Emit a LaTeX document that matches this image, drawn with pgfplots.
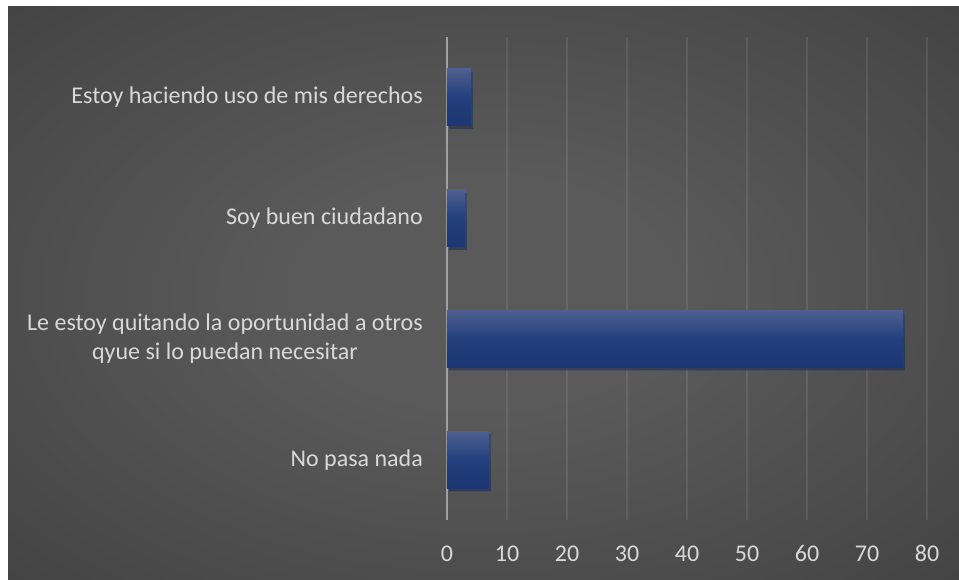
\documentclass[border=0pt]{standalone}
\usepackage{pgfplots}
\pgfplotsset{compat=1.18}
\usepackage{fontspec}
\setmainfont{Carlito}

\definecolor{bgin}{HTML}{5A5A5A}
\definecolor{bgout}{HTML}{252525}
\definecolor{txt}{HTML}{D9D9D9}
\definecolor{axisgray}{HTML}{A0A0A0}
\definecolor{bartop}{HTML}{4E5F91}
\definecolor{barmid}{HTML}{22407D}
\definecolor{barbot}{HTML}{1C3670}
\pgfdeclareradialshading{chartbg}{\pgfpoint{0bp}{0bp}}{%
  color(0bp)=(bgin); color(10bp)=(bgin); color(71bp)=(bgout)}

\begin{document}
\begin{tikzpicture}[x=1pt,y=1pt]
\fill[white] (0,0) rectangle (959,579);
\shade[shading=chartbg] (8,0) rectangle (959,572);
\begin{axis}[
    at={(447pt,59pt)}, anchor=south west,
    width=480pt, height=483pt, scale only axis,
    xbar, bar width=57pt, bar shift=0pt,
    xmin=0, xmax=80, ymin=-0.5, ymax=3.5,
    xtick={0,10,...,80},
    ytick={0,1,2,3},
    yticklabels={No pasa nada,
      {Le estoy quitando la oportunidad a otros\\qyue si lo puedan necesitar},
      Soy buen ciudadano,
      Estoy haciendo uso de mis derechos},
    major tick length=0pt,
    axis line style={draw=none},
    xmajorgrids,
    major grid style={white, opacity=0.09, line width=1.3pt},
    extra x ticks={0}, extra x tick labels={},
    extra x tick style={major grid style={axisgray, opacity=1, line width=2pt}},
    ticklabel style={font=\fontsize{24}{29}\selectfont, text=txt},
    /pgf/number format/assume math mode=true,
    xticklabel style={anchor=base, yshift=-41pt},
    yticklabel style={anchor=east, align=center, inner sep=0pt, xshift=-24pt},
    every axis plot/.append style={draw=none,
      preaction={fill=black, opacity=0.25, transform canvas={xshift=2pt, yshift=-3pt}},
      top color=bartop, bottom color=barbot, middle color=barmid},
  ]
  \addplot coordinates {(7,0)};
  \addplot coordinates {(76,1)};
  \addplot coordinates {(3,2)};
  \addplot coordinates {(4,3)};
\end{axis}
\pgfresetboundingbox
\path (0,0) rectangle (959,579);
\end{tikzpicture}
\end{document}
